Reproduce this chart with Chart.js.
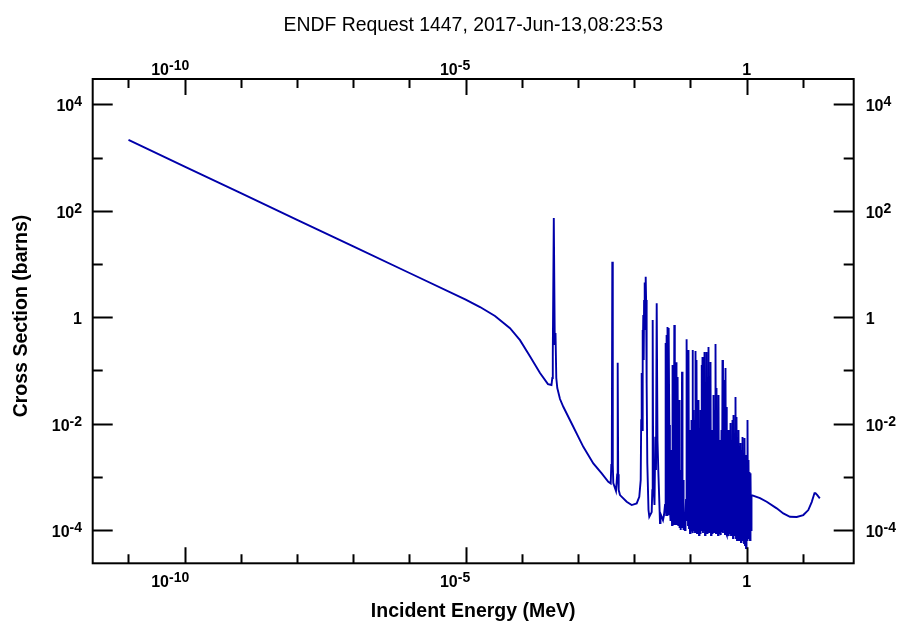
<!DOCTYPE html>
<html lang="en">
<head>
<meta charset="UTF-8" />
<title>ENDF Request 1447</title>
<style>
  body { margin: 0; background: #ffffff; }
  #wrap { position: relative; width: 899px; height: 623px; }
</style>
</head>
<body>
<div id="wrap"><canvas id="xs"></canvas></div>

<script src="https://cdn.jsdelivr.net/npm/chart.js@4"></script>
<script>
  const titleText = 'ENDF Request 1447, 2017-Jun-13,08:23:53';
  const xTitle = 'Incident Energy (MeV)';
  const yTitle = 'Cross Section (barns)';

  // incident energy, MeV
  const energy = [
    // thermal / 1/v part
    1.0e-11, 1.0e-10, 1.0e-9, 1.0e-8, 1.0e-7, 1.0e-6, 1.0e-5,
    1.80e-5, 3.32e-5, 6.14e-5, 9.25e-5, 1.39e-4, 2.10e-4, 2.91e-4, 3.36e-4,
    // first resonances
    3.475e-4, 3.547e-4, 3.695e-4, 3.849e-4, 3.962e-4, 4.093e-4, 4.264e-4, 4.763e-4,
    5.453e-4, 8.21e-4, 1.238e-3, 1.865e-3, 2.630e-3, 3.446e-3, 3.803e-3,
    3.897e-3, 3.978e-3, 4.060e-3, 4.144e-3, 4.229e-3, 4.725e-3,
    4.962e-3, 5.065e-3, 5.170e-3, 5.277e-3, 5.567e-3, 7.32e-3, 8.99e-3,
    0.01103, 0.01227,
    0.0130, 0.01327, 0.01354, 0.01377, 0.01399, 0.01423, 0.01446, 0.0147,
    0.01494, 0.01519, 0.01544, 0.01569, 0.01595, 0.01622, 0.01648, 0.01669, 0.01704,
    0.01789, 0.01849,
    0.0204, 0.0209, 0.02125, 0.0217, 0.02288, 0.02365, 0.02433, 0.02504,
    0.02587, 0.02674,
    // resolved region, 30-100 keV
    0.02867, 0.02926, 0.02987, 0.03074, 0.03242, 0.03378,
    0.03519, 0.03592, 0.03636, 0.03696, 0.03757, 0.0382, 0.03867, 0.03931,
    0.03995, 0.04061, 0.04112, 0.04197, 0.04302, 0.04408, 0.04500, 0.04593,
    0.04688, 0.04746, 0.04844, 0.04944, 0.05047, 0.05152, 0.05259, 0.05346,
    0.05434, 0.05523, 0.05637, 0.05754, 0.05849, 0.05946, 0.06069, 0.06169,
    0.06272, 0.06402, 0.06561, 0.06696, 0.06862, 0.06947, 0.07062, 0.07208,
    0.07357, 0.0754, 0.07824, 0.07985, 0.0815, 0.08319, 0.08457, 0.08596,
    0.08738, 0.08883, 0.09030, 0.09217, 0.09408, 0.09564,
    // 0.1-1.2 MeV
    0.09801, 0.1000, 0.1021, 0.1042, 0.1064, 0.1086, 0.1108, 0.1131, 0.1155, 0.1179,
    0.1203, 0.1228, 0.1253, 0.1279, 0.1306, 0.1333, 0.1360, 0.1388, 0.1417, 0.1446,
    0.1477, 0.1508, 0.1538, 0.1570, 0.1602, 0.1635, 0.1669, 0.1704, 0.1739, 0.1775,
    0.1812, 0.1850, 0.1888, 0.1927, 0.1967, 0.2008, 0.2049, 0.2091, 0.2135, 0.2179,
    0.2224, 0.2270, 0.2317, 0.2365, 0.2414, 0.2464, 0.2515, 0.2567, 0.2620, 0.2674,
    0.2730, 0.2787, 0.2844, 0.2903, 0.2963, 0.3024, 0.3087, 0.3151, 0.3216, 0.3283,
    0.3351, 0.3420, 0.3489, 0.3561, 0.3635, 0.3710, 0.3787, 0.3865, 0.3946, 0.4028,
    0.4111, 0.4196, 0.4283, 0.4372, 0.4462, 0.4554, 0.4649, 0.4745, 0.4843, 0.4943,
    0.5046, 0.5150, 0.5257, 0.5366, 0.5477, 0.5590, 0.5706, 0.5824, 0.5945, 0.6068,
    0.6193, 0.6321, 0.6452, 0.6586, 0.6722, 0.6861, 0.7003, 0.7148, 0.7296, 0.7447,
    0.7601, 0.7758, 0.7919, 0.8083, 0.8250, 0.8421, 0.8595, 0.8773, 0.8955, 0.9140,
    0.9329, 0.9522, 0.9720, 0.9921, 1.0126, 1.0336, 1.0550, 1.0768, 1.0991, 1.1219,
    1.1451, 1.1688, 1.1930, 1.2177,
    // smooth fast part
    1.724, 2.269, 3.42, 4.48, 5.89, 7.76, 10.16, 12.48, 14.34, 16.08, 16.76, 18.04, 20.0
  ];

  // cross section, barns
  const sigma = [
    2140, 676, 214, 67.6, 21.4, 6.76, 2.14,
    1.55, 1.05, 0.62, 0.37, 0.185, 0.089, 0.0553, 0.0530,
    0.0717, 0.211, 72.9, 0.299, 0.502, 0.0717, 0.0465, 0.0289,
    0.0207, 0.00871, 0.00366, 0.001786, 0.001158, 0.000805, 0.000751,
    0.00166, 0.00178, 11.0, 0.00166, 0.00076, 0.000538,
    0.00111, 0.139, 0.00111, 0.000562, 0.000453, 0.000339, 0.000294,
    0.000316, 0.000421,
    0.000867, 0.01163, 0.0889, 0.00755, 0.572, 0.1562, 1.095, 0.1562,
    2.10, 0.572, 4.5, 0.882, 5.75, 2.10, 0.371, 0.0577, 0.00181,
    0.000237, 0.000177,
    0.000217, 0.000562, 0.882, 0.000867, 0.000294, 0.00565, 0.001336, 1.817,
    0.0049, 0.001336,

    0.000135, 0.000167, 0.000191, 0.000191, 0.0001535, 0.000191,
    0.000294, 0.02764, 0.326, 0.000191, 0.461, 0.000191, 0.651, 0.000191,
    0.371, 0.000191, 0.625, 0.00937, 0.000237, 0.0001535, 0.0001535, 0.00318,
    0.0001237, 0.1258, 0.0001237, 0.01163, 0.0001237, 0.7105, 0.0001237, 0.02764,
    0.0001535, 0.142, 0.0001237, 0.0049, 0.0001237, 0.0748, 0.0001237, 0.00755,
    0.02764, 0.000109, 0.000365, 0.0000996, 0.001336, 0.000109, 0.0941, 0.000109,
    0.000867, 0.0000996, 0.000191, 0.0000996, 0.000208, 0.000365, 0.01163, 0.3826,
    0.0001535, 0.02764, 0.0001237, 0.2407, 0.000109, 0.00663,

    0.0000874, 0.00755, 0.0000996, 0.01163, 0.000109, 0.2407, 0.0000874, 0.01794, 0.0000996, 0.01163,
    0.0000913, 0.2305, 0.000109, 0.1562, 0.0000874, 0.01163, 0.0000996, 0.02764, 0.0000802, 0.00755,
    0.0000874, 0.01794, 0.0000996, 0.1258, 0.000109, 0.178, 0.0000874, 0.02764, 0.0000996, 0.2207,
    0.0000802, 0.01163, 0.0000996, 0.2207, 0.0000874, 0.02764, 0.0000996, 0.274, 0.0000913, 0.02764,
    0.0000996, 0.1432, 0.0000802, 0.001336, 0.0000874, 0.00755, 0.0000996, 0.0343, 0.0000913, 0.01794,
    0.000109, 0.312, 0.0000874, 0.0465, 0.0000996, 0.01163, 0.0000802, 0.0343, 0.0000874, 0.0049,
    0.0000996, 0.00361, 0.0000802, 0.00755, 0.0000913, 0.1562, 0.0000874, 0.01794, 0.0000996, 0.0657,
    0.0000802, 0.1105, 0.0000874, 0.0205, 0.0000802, 0.00755, 0.0000996, 0.00755, 0.0000768, 0.0049,
    0.0000874, 0.01021, 0.0000802, 0.0049, 0.0000996, 0.01163, 0.0000704, 0.01444, 0.0000802, 0.0049,
    0.0000874, 0.0315, 0.0000704, 0.01325, 0.0000646, 0.00318, 0.0000768, 0.00755, 0.0000646, 0.00318,
    0.0000704, 0.0043, 0.0000592, 0.00318, 0.0000646, 0.00558, 0.0000704, 0.00256, 0.0000567, 0.00534,
    0.000052, 0.00166, 0.0000457, 0.00256, 0.0000646, 0.01163, 0.0000704, 0.00206, 0.0000802, 0.001225,
    0.0000646, 0.00117, 0.0000996, 0.000453,

    0.000398, 0.000339, 0.000255, 0.000205, 0.000177, 0.000176, 0.000191, 0.000237, 0.000335, 0.000494, 0.000494, 0.000453, 0.000394
  ];

  // decade exponents that carry a label
  const xLabelExp = [-10, -5, 0];
  const yLabelExp = [4, 2, 0, -2, -4];

  // axis limits (decades)
  const xLogMin = -11.637, xLogMax = 1.904;
  const yLogMin = -4.626, yLogMax = 4.476;

  const FONT = '"Liberation Sans", Arial, Helvetica, sans-serif';
  const BASE = 'bold 16px ' + FONT;
  const EXPO = 'bold 14px ' + FONT;

  // "10" with a raised exponent, or plain "1"
  function powWidth(ctx, e) {
    ctx.font = BASE;
    if (e === 0) return ctx.measureText('1').width;
    const a = ctx.measureText('10').width;
    ctx.font = EXPO;
    return a + ctx.measureText(String(e)).width;
  }
  function drawPow(ctx, e, left, base) {
    ctx.textAlign = 'left';
    ctx.textBaseline = 'alphabetic';
    ctx.font = BASE;
    if (e === 0) { ctx.fillText('1', left, base); return; }
    ctx.fillText('10', left, base);
    const a = ctx.measureText('10').width;
    ctx.font = EXPO;
    ctx.fillText(String(e), left + a, base - 5);
  }

  const frame = {
    id: 'frame',
    afterDraw(chart) {
      const { ctx, chartArea: ca, scales } = chart;
      const xs = scales.x, ys = scales.y;
      ctx.save();
      ctx.fillStyle = '#000';
      ctx.strokeStyle = '#000';

      // ticks pointing inwards on all four sides
      ctx.lineWidth = 2;
      ctx.beginPath();
      for (let d = Math.ceil(xLogMin); d <= Math.floor(xLogMax); d++) {
        const px = Math.round(xs.getPixelForValue(Math.pow(10, d))) + 0.5;
        const len = d % 5 === 0 ? 16 : 9;
        ctx.moveTo(px, ca.bottom); ctx.lineTo(px, ca.bottom - len);
        ctx.moveTo(px, ca.top); ctx.lineTo(px, ca.top + len);
      }
      for (let d = Math.ceil(yLogMin); d <= Math.floor(yLogMax); d++) {
        const py = Math.round(ys.getPixelForValue(Math.pow(10, d))) + 0.5;
        const len = d % 2 === 0 ? 20 : 10;
        ctx.moveTo(ca.left, py); ctx.lineTo(ca.left + len, py);
        ctx.moveTo(ca.right, py); ctx.lineTo(ca.right - len, py);
      }
      ctx.stroke();
      ctx.strokeRect(ca.left, ca.top, ca.right - ca.left, ca.bottom - ca.top);

      // decade labels
      xLabelExp.forEach(e => {
        const px = xs.getPixelForValue(Math.pow(10, e));
        const w = powWidth(ctx, e);
        drawPow(ctx, e, px + 4.5 - w, ca.bottom + 24);
        drawPow(ctx, e, px + 4.5 - w, ca.top - 4);
      });
      yLabelExp.forEach(e => {
        const py = ys.getPixelForValue(Math.pow(10, e));
        const w = powWidth(ctx, e);
        drawPow(ctx, e, 82 - w, py + 7);
        drawPow(ctx, e, ca.right + 12, py + 7);
      });

      // titles
      const cx = (ca.left + ca.right) / 2;
      ctx.textAlign = 'center';
      ctx.font = '19.4px ' + FONT;
      ctx.fillText(titleText, cx, 31);
      ctx.font = 'bold 19.5px ' + FONT;
      ctx.fillText(xTitle, cx, 617);
      ctx.save();
      ctx.translate(27, 316);
      ctx.rotate(-Math.PI / 2);
      ctx.fillText(yTitle, 0, 0);
      ctx.restore();
      ctx.restore();
    }
  };

  new Chart(document.getElementById('xs'), {
    type: 'line',
    data: {
      datasets: [{
        data: energy.map((e, i) => ({ x: e, y: sigma[i] })),
        borderColor: '#0000aa',
        borderWidth: 1.9,
        pointRadius: 0,
        tension: 0,
        fill: false
      }]
    },
    options: {
      responsive: true,
      maintainAspectRatio: false,
      animation: false,
      events: [],
      layout: { padding: { left: 92.7, right: 45.3, top: 79, bottom: 59.7 } },
      plugins: { legend: { display: false }, title: { display: false }, tooltip: { enabled: false } },
      scales: {
        x: { type: 'logarithmic', display: false, min: Math.pow(10, xLogMin), max: Math.pow(10, xLogMax) },
        y: { type: 'logarithmic', display: false, min: Math.pow(10, yLogMin), max: Math.pow(10, yLogMax) }
      }
    },
    plugins: [frame]
  });
</script>
</body>
</html>
